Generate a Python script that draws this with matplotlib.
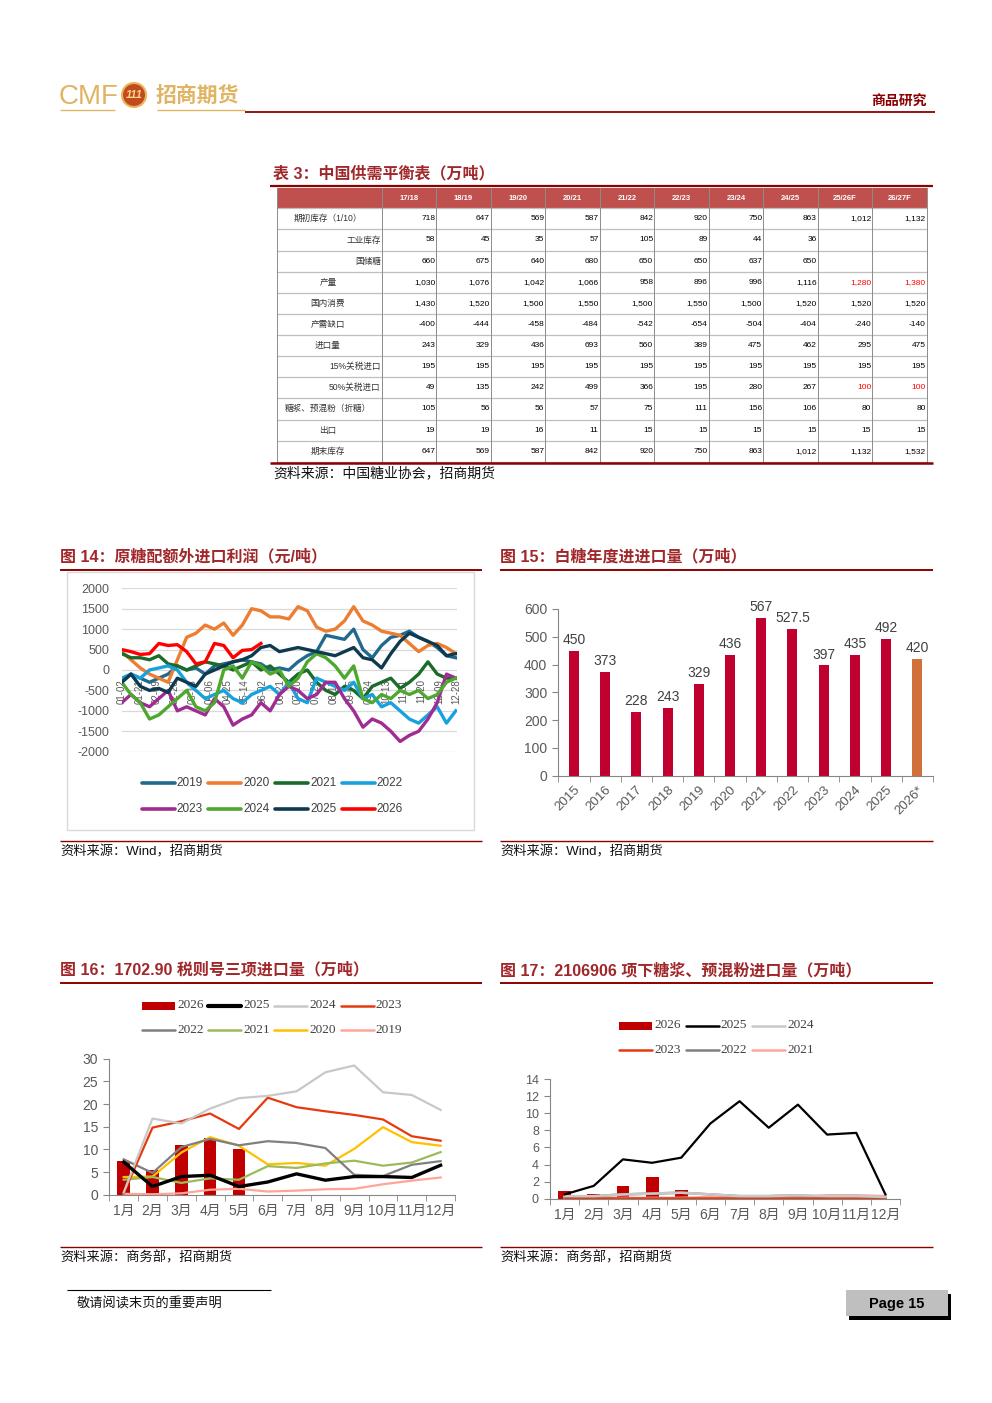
import numpy as np
import matplotlib
matplotlib.use('Agg')
import matplotlib.pyplot as plt
from matplotlib.patches import Rectangle, Circle

plt.rcParams['font.family'] = ['Liberation Sans', 'Noto Sans CJK SC']
plt.rcParams['axes.unicode_minus'] = False

W, H = 992, 1403
DARK_RED = '#8B0000'
TITLE_RED = '#A0282B'
GOLD = '#E0B463'
GREY_TXT = '#595959'

# ---------------- table 3 data ----------------
tbl_cols = ['17/18', '18/19', '19/20', '20/21', '21/22', '22/23', '23/24', '24/25', '25/26F', '26/27F']
tbl_rows = ['期初库存（1/10）', '工业库存', '国储糖', '产量', '国内消费', '产需缺口',
            '进口量', '15%关税进口', '50%关税进口', '糖浆、预混粉（折糖）', '出口', '期末库存']
tbl_align = ['c', 'r', 'r', 'c', 'c', 'c', 'c', 'r', 'r', 'c', 'c', 'c']
tbl_vals = [
    [718, 647, 569, 587, 842, 920, 750, 863, 1012, 1132],
    [58, 45, 35, 57, 105, 89, 44, 36, None, None],
    [660, 675, 640, 680, 650, 650, 637, 650, None, None],
    [1030, 1076, 1042, 1066, 958, 896, 996, 1116, 1280, 1380],
    [1430, 1520, 1500, 1550, 1500, 1550, 1500, 1520, 1520, 1520],
    [-400, -444, -458, -484, -542, -654, -504, -404, -240, -140],
    [243, 329, 436, 693, 560, 389, 475, 462, 295, 475],
    [195, 195, 195, 195, 195, 195, 195, 195, 195, 195],
    [49, 135, 242, 499, 366, 195, 280, 267, 100, 100],
    [105, 56, 56, 57, 75, 111, 156, 106, 80, 80],
    [19, 19, 16, 11, 15, 15, 15, 15, 15, 15],
    [647, 569, 587, 842, 920, 750, 863, 1012, 1132, 1532],
]
tbl_red_rows = ['产量', '50%关税进口']
tbl_red_cols = ['25/26F', '26/27F']

# ---------------- figure 14 data (values every 10 days from 01-02) ----------------
profit_step = 10
profit = {
    '2019': [-300, -100, -200, -300, -200, -100, 100, 0, 50, -100, 100, 150, 200, 250, 200, 150, 0, 50, 0,
             200, 350, 450, 850, 800, 750, 1000, 500, 300, 600, 800, 850, 950, 800, 700, 550, 350, 300],
    '2020': [450, 250, 50, -100, -200, -300, 250, 800, 900, 1100, 1000, 1150, 850, 1100, 1500, 1450, 1300, 1300,
             1250, 1550, 1450, 1050, 950, 1000, 1200, 1550, 1200, 1100, 950, 900, 850, 650, 450, 600, 650, 550, 400],
    '2021': [400, 300, 300, 250, 350, 150, 100, 0, 100, 200, 150, 100, 0, 100, 200, 0, 100, -100, -300,
             -100, 0, -300, -500, -600, -400, -500, -700, -400, -300, -200, -450, -300, -100, 200, -100, -200, -200],
    '2022': [-200, -100, -200, 0, 50, 100, 0, -300, -500, -700, -600, -500, -700, -800, -600, -500, -400, -600,
             -300, -700, -800, -200, -300, -400, -500, -300, -700, -600, -900, -800, -1000, -1200, -1300, -1100,
             -900, -1300, -1000],
    '2023': [-800, -600, -800, -900, -700, -500, -1000, -900, -1000, -1100, -700, -900, -1350, -1200, -1100, -800,
             -1000, -600, -400, -500, -700, -600, -300, -300, -700, -1000, -1400, -1200, -1300, -1500, -1750,
             -1600, -1500, -1200, -800, -100, -200],
    '2024': [-300, -600, -800, -1200, -1100, -900, -700, -500, -900, -1000, -800, 0, 100, -200, 200, 100, -100, 0,
             -400, -200, 200, 400, 300, 100, -200, 100, -700, -800, -600, -700, -500, -600, -500, -700, -600,
             -300, -200],
    '2025': [-300, -100, -400, -500, -450, -550, -200, -300, -400, -100, 0, 100, 200, 250, 350, 550, 600, 450, 500,
             550, 500, 450, 400, 350, 450, 550, 300, 250, 50, 400, 700, 900, 800, 700, 600, 350, 400],
    '2026': [500, 450, 380, 400, 650, 600, 620, 450, 150, 200, 650, 600, 300, 480, 500, 650],
}
profit_colors = {'2019': '#21698F', '2020': '#ED7D31', '2021': '#1B6B2A', '2022': '#16A2DE',
                 '2023': '#A02B93', '2024': '#4EA72E', '2025': '#0E3A4F', '2026': '#FF0000'}
date_labels = ['01-02', '01-21', '02-09', '02-28', '03-18', '04-06', '04-25', '05-14', '06-02', '06-21',
               '07-10', '07-29', '08-17', '09-05', '09-24', '10-13', '11-01', '11-20', '12-09', '12-28']
date_step = 19

# ---------------- figure 15 data ----------------
imp_years = ['2015', '2016', '2017', '2018', '2019', '2020', '2021', '2022', '2023', '2024', '2025', '2026*']
imp_vals = [450, 373, 228, 243, 329, 436, 567, 527.5, 397, 435, 492, 420]

# ---------------- figure 16 / 17 data ----------------
months = ['1月', '2月', '3月', '4月', '5月', '6月', '7月', '8月', '9月', '10月', '11月', '12月']
f16_bar_2026 = [7.5, 5.5, 11.0, 12.5, 10.0]
f16_lines = {
    '2025': [7.2, 1.8, 4.0, 4.3, 1.8, 2.8, 4.6, 3.2, 4.0, 4.0, 3.8, 6.5],
    '2024': [0.5, 16.8, 15.7, 19.0, 21.3, 21.8, 22.8, 27.0, 28.5, 22.6, 22.0, 18.7],
    '2023': [0.3, 14.8, 16.2, 17.9, 14.5, 21.4, 19.3, 18.4, 17.6, 16.6, 12.9, 11.9],
    '2022': [7.8, 4.8, 10.5, 12.3, 10.9, 11.8, 11.4, 10.3, 4.4, 4.1, 6.6, 7.4],
    '2021': [3.3, 3.9, 2.6, 3.6, 3.3, 6.3, 5.9, 6.9, 7.5, 6.4, 7.1, 9.4],
    '2020': [3.9, 4.0, 9.3, 12.7, 10.8, 6.7, 7.0, 6.4, 10.1, 14.9, 11.6, 10.8],
    '2019': [0.2, 0.1, 0.3, 1.1, 1.3, 0.7, 0.9, 1.2, 1.3, 2.3, 3.1, 3.8],
}
f16_colors = {'2026': '#C00000', '2025': '#000000', '2024': '#C8C8C8', '2023': '#E63A0E',
              '2022': '#7F7F7F', '2021': '#9BBB59', '2020': '#FFC000', '2019': '#FFA597'}
f17_bar_2026 = [0.9, 0.6, 1.5, 2.5, 1.0]
f17_lines = {
    '2025': [0.5, 1.5, 4.6, 4.2, 4.8, 8.8, 11.4, 8.3, 11.0, 7.5, 7.7, 0.5],
    '2024': [0.3, 0.3, 0.5, 0.6, 0.7, 0.5, 0.3, 0.3, 0.4, 0.3, 0.3, 0.2],
    '2023': [0.1, 0.1, 0.1, 0.1, 0.1, 0.1, 0.1, 0.1, 0.1, 0.1, 0.1, 0.1],
    '2022': [0.2, 0.3, 0.5, 0.6, 0.7, 0.5, 0.3, 0.3, 0.4, 0.2, 0.2, 0.1],
    '2021': [0.1, 0.1, 0.1, 0.1, 0.1, 0.2, 0.2, 0.2, 0.2, 0.4, 0.4, 0.3],
}
f17_colors = {'2026': '#C00000', '2025': '#000000', '2024': '#C8C8C8', '2023': '#E63A0E',
              '2022': '#7F7F7F', '2021': '#FFA597'}


fig = plt.figure(figsize=(W / 100, H / 100), dpi=100)
page = fig.add_axes([0, 0, 1, 1])
page.set_xlim(0, W)
page.set_ylim(H, 0)
page.axis('off')


def ax_px(x0, y0, x1, y1):
    return fig.add_axes([x0 / W, 1 - y1 / H, (x1 - x0) / W, (y1 - y0) / H])


def hline(x0, x1, y, color=DARK_RED, lw=1.2):
    page.plot([x0, x1], [y, y], color=color, lw=lw, solid_capstyle='butt')


# ---------------- header ----------------
page.text(59, 97, 'CMF', fontsize=20, color=GOLD, va='center', ha='left')
page.add_patch(Circle((134, 95), 12, facecolor='#C24A1C', edgecolor='#E9B55C', lw=1.5))
page.text(134, 95.5, '111', fontsize=8, color='#F6D88C', ha='center', va='center',
          style='italic', weight='bold')
page.text(156, 96, '招商期货', fontsize=15, color=GOLD, va='center', ha='left', weight='bold')
hline(60, 115, 110, color=GOLD, lw=1)
hline(157, 245, 110, color=GOLD, lw=1)
hline(245, 935, 112, color=DARK_RED, lw=1.3)
page.text(927, 102, '商品研究', fontsize=10, color=DARK_RED, ha='right', va='center', weight='bold')

# ---------------- table 3 ----------------
page.text(273, 174, '表 3：中国供需平衡表（万吨）', fontsize=11.5, color=TITLE_RED, weight='bold', va='center')
hline(270, 933, 185.5, lw=1.6)
col_x = [276.7] + [381.7 + 54.5 * i for i in range(len(tbl_cols) + 1)]
head_top, head_bot = 188.3, 208.3
row_h = 21.12
page.add_patch(Rectangle((col_x[0], head_top), col_x[-1] - col_x[0], head_bot - head_top,
                         facecolor='#C0504D', edgecolor='none'))
for i, c in enumerate(tbl_cols):
    cx = (col_x[i + 1] + col_x[i + 2]) / 2
    page.text(cx, (head_top + head_bot) / 2, c, fontsize=5.5, color='white', weight='bold',
              ha='center', va='center')
table_bot = head_bot + row_h * len(tbl_rows)
for r in range(len(tbl_rows) + 1):
    y = head_bot + r * row_h
    page.plot([col_x[0], col_x[-1]], [y, y], color='#BFBFBF', lw=0.9)
for x in col_x:
    page.plot([x, x], [head_top, table_bot], color='#8C8C8C', lw=0.7)
for r, name in enumerate(tbl_rows):
    cy = head_bot + (r + 0.5) * row_h
    if tbl_align[r] == 'r':
        page.text(col_x[1] - 1, cy, name, fontsize=6.2, ha='right', va='center', color='#333333')
    else:
        page.text(328, cy, name, fontsize=6.2, ha='center', va='center', color='#333333')
    for i, v in enumerate(tbl_vals[r]):
        if v is None:
            continue
        red = name in tbl_red_rows and tbl_cols[i] in tbl_red_cols
        page.text(col_x[i + 2] - 1, cy, f'{v:,}', fontsize=6, ha='right', va='center',
                  color='#FF0000' if red else '#000000')
hline(270, 933, table_bot + 1, lw=1.8)
page.text(273, 473, '资料来源：中国糖业协会，招商期货', fontsize=10, va='center', color='#111111')

# ---------------- section titles / rules ----------------
page.text(60, 557, '图 14：原糖配额外进口利润（元/吨）', fontsize=11.5, color=TITLE_RED, weight='bold', va='center')
page.text(500, 557, '图 15：白糖年度进进口量（万吨）', fontsize=11.5, color=TITLE_RED, weight='bold', va='center')
hline(60, 482, 569.5, lw=1.4)
hline(500, 933, 569.5, lw=1.4)
hline(60, 482, 841, lw=1)
hline(500, 933, 841, lw=1)
page.text(60, 852, '资料来源：Wind，招商期货', fontsize=9.5, va='center', color='#111111')
page.text(500, 852, '资料来源：Wind，招商期货', fontsize=9.5, va='center', color='#111111')

page.text(60, 970, '图 16：1702.90 税则号三项进口量（万吨）', fontsize=11.5, color=TITLE_RED, weight='bold', va='center')
page.text(500, 970, '图 17：2106906 项下糖浆、预混粉进口量（万吨）', fontsize=11.5, color=TITLE_RED,
          weight='bold', va='center')
hline(60, 482, 983, lw=1.4)
hline(500, 933, 983, lw=1.4)
hline(60, 482, 1247, lw=1)
hline(500, 933, 1247, lw=1)
page.text(60, 1258, '资料来源：商务部，招商期货', fontsize=9.5, va='center', color='#111111')
page.text(500, 1258, '资料来源：商务部，招商期货', fontsize=9.5, va='center', color='#111111')

# ---------------- footer ----------------
hline(67, 271, 1290, color='black', lw=0.8)
page.text(77, 1304, '敬请阅读末页的重要声明', fontsize=9.5, va='center', color='#111111')
page.add_patch(Rectangle((849, 1294), 102, 26, facecolor='black', edgecolor='none'))
page.add_patch(Rectangle((846, 1290), 102, 26, facecolor='#BFBFBF', edgecolor='none'))
page.text(897, 1304, 'Page 15', fontsize=10.5, weight='bold', ha='center', va='center')


def legend_rows(rows, x0, y0, dx, dy, line_len, font, fsize, lw_map, patch_years=()):
    for r, row in enumerate(rows):
        y = y0 + r * dy
        for i, (lab, col) in enumerate(row):
            x = x0 + i * dx
            if lab in patch_years:
                page.add_patch(Rectangle((x, y - 4), line_len, 8, facecolor=col, edgecolor='none'))
            else:
                page.plot([x, x + line_len], [y, y], color=col, lw=lw_map.get(lab, 1.8),
                          solid_capstyle='round')
            page.text(x + line_len + 2, y, lab, fontsize=fsize, family=font, va='center',
                      ha='left', color='#404040')


# ---------------- figure 14 ----------------
page.add_patch(Rectangle((67, 572), 407, 258, facecolor='none', edgecolor='#D9D9D9', lw=1))
ax14 = ax_px(121.7, 588.3, 456.7, 751.7)
for yr, vals in profit.items():
    days = np.arange(len(vals)) * profit_step
    ax14.plot(days, vals, color=profit_colors[yr], lw=2.4, zorder=3, solid_joinstyle='round')
for i, lab in enumerate(date_labels):
    ax14.text(i * date_step, -230, lab, rotation=90, ha='center', va='top', fontsize=7,
              color=GREY_TXT, zorder=1)
ax14.set_xlim(0, 361)
ax14.set_ylim(-2000, 2000)
ax14.set_yticks(np.arange(-2000, 2001, 500))
ax14.set_xticks([])
ax14.tick_params(axis='y', length=0, labelsize=9, labelcolor=GREY_TXT, pad=9)
ax14.grid(axis='y', color='#D9D9D9', lw=0.9, zorder=0)
ax14.set_axisbelow(True)
for s in ax14.spines.values():
    s.set_visible(False)
ax14.patch.set_alpha(0)
yrs = list(profit.keys())
legend_rows([[(y, profit_colors[y]) for y in yrs[:4]], [(y, profit_colors[y]) for y in yrs[4:]]],
            141.7, 782.5, 66.7, 26.3, 33, 'Liberation Sans', 8.5, {y: 2.6 for y in yrs})

# ---------------- figure 15 ----------------
ax15 = ax_px(558.3, 609, 933, 775.7)
xs = np.arange(len(imp_years))
bar_cols = ['#C0002F'] * (len(imp_years) - 1) + ['#D2703A']
ax15.bar(xs, imp_vals, width=0.32, color=bar_cols)
for x, v in zip(xs, imp_vals):
    ax15.text(x, v + 14, f'{v:g}', ha='center', va='bottom', fontsize=10, color='#404040', clip_on=False)
ax15.set_xlim(-0.5, len(imp_years) - 0.5)
ax15.set_ylim(0, 600)
ax15.set_yticks(np.arange(0, 601, 100))
ax15.set_xticks(xs)
ax15.set_xticklabels(imp_years, rotation=45, ha='right', rotation_mode='anchor')
ax15.set_xticks(np.arange(-0.5, len(imp_years), 1), minor=True)
ax15.tick_params(axis='x', which='major', length=0, labelsize=9.5, labelcolor=GREY_TXT, pad=6)
ax15.tick_params(axis='x', which='minor', length=4, color='#868686', direction='out')
ax15.tick_params(axis='y', length=4, color='#868686', labelsize=10, labelcolor=GREY_TXT, pad=4)
for s in ['top', 'right']:
    ax15.spines[s].set_visible(False)
for s in ['left', 'bottom']:
    ax15.spines[s].set_color('#868686')
    ax15.spines[s].set_linewidth(0.8)
ax15.patch.set_alpha(0)


def month_axes(ax, ymax, ystep, ylab):
    ax.set_xlim(-0.5, 11.5)
    ax.set_ylim(0, ymax)
    ax.set_yticks(np.arange(0, ymax + 0.1, ystep))
    ax.set_xticks(np.arange(12))
    ax.set_xticklabels(months)
    ax.set_xticks(np.arange(-0.5, 12, 1), minor=True)
    ax.tick_params(axis='x', which='major', length=0, labelsize=10, labelcolor=GREY_TXT, pad=7)
    ax.tick_params(axis='x', which='minor', length=4, color='#868686', direction='out')
    ax.tick_params(axis='y', length=4, color='#868686', labelsize=ylab, labelcolor=GREY_TXT, pad=4)
    for s in ['top', 'right']:
        ax.spines[s].set_visible(False)
    for s in ['left', 'bottom']:
        ax.spines[s].set_color('#868686')
        ax.spines[s].set_linewidth(0.8)
    ax.patch.set_alpha(0)


# ---------------- figure 16 ----------------
ax16 = ax_px(109.3, 1058.7, 455, 1194.7)
ax16.bar(np.arange(len(f16_bar_2026)), f16_bar_2026, width=0.44, color=f16_colors['2026'], zorder=1)
for yr in ['2019', '2020', '2021', '2022', '2023', '2024', '2025']:
    ax16.plot(np.arange(12), f16_lines[yr], color=f16_colors[yr],
              lw=2.4 if yr == '2025' else 1.6, zorder=2 if yr != '2025' else 3)
month_axes(ax16, 30, 5, 10)
lw16 = {'2025': 3, '2024': 1.8, '2023': 1.8, '2022': 1.8, '2021': 1.8, '2020': 1.8, '2019': 1.8}
legend_rows([[(y, f16_colors[y]) for y in ['2026', '2025', '2024', '2023']],
             [(y, f16_colors[y]) for y in ['2022', '2021', '2020', '2019']]],
            142, 1005.5, 66.2, 24.8, 33, 'Liberation Serif', 9.5, lw16, patch_years=('2026',))

# ---------------- figure 17 ----------------
ax17 = ax_px(550, 1079, 900, 1198.7)
ax17.bar(np.arange(len(f17_bar_2026)), f17_bar_2026, width=0.44, color=f17_colors['2026'], zorder=1)
for yr in ['2021', '2022', '2023', '2024', '2025']:
    ax17.plot(np.arange(12), f17_lines[yr], color=f17_colors[yr],
              lw=1.6 if yr == '2025' else 1.8, zorder=2 if yr != '2025' else 3)
month_axes(ax17, 14, 2, 9)
legend_rows([[(y, f17_colors[y]) for y in ['2026', '2025', '2024']],
             [(y, f17_colors[y]) for y in ['2023', '2022', '2021']]],
            619, 1025.5, 66.5, 24.8, 33, 'Liberation Serif', 9.5, {'2025': 1.8}, patch_years=('2026',))

fig.savefig('out.png', dpi=100)
